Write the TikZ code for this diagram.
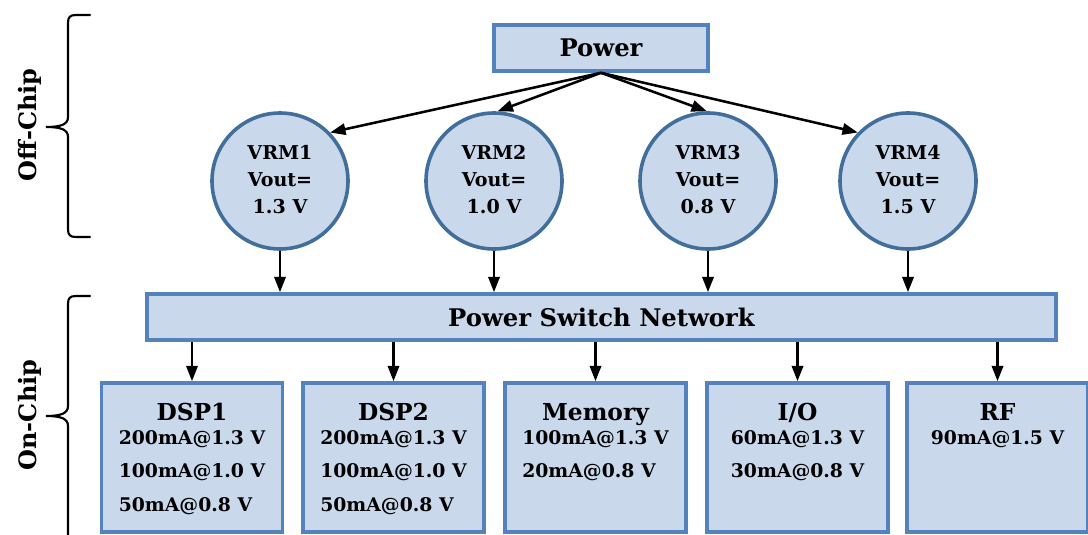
\documentclass[tikz,border=0pt]{standalone}
\usepackage{fontspec}
\setmainfont{DejaVu Serif}
\usetikzlibrary{arrows.meta}
\definecolor{boxfill}{RGB}{201,216,235}
\definecolor{boxline}{RGB}{84,130,189}
\definecolor{ringline}{RGB}{65,110,155}
\tikzset{
  block/.style={draw=boxline, fill=boxfill, line width=2.7pt, inner sep=0pt},
  unit/.style={block, minimum width=135.75pt, minimum height=111.75pt},
  vrm/.style={circle, draw=ringline, fill=boxfill, line width=2.7pt, minimum size=102pt, inner sep=0pt,
    font=\bfseries\fontsize{14.3}{20}\selectfont},
  flow/.style={-{Triangle[length=11.5pt,width=8.5pt]}, line width=1.9pt},
  brace/.style={line width=1.6pt, line cap=round},
  bigtext/.style={font=\bfseries\fontsize{18.2}{18}\selectfont},
  unittitle/.style={anchor=base, inner sep=0pt, font=\bfseries\fontsize{17.5}{17}\selectfont},
  loads/.style={anchor=base, inner sep=0pt, font=\bfseries\fontsize{14.1}{25}\selectfont},
  side/.style={rotate=90, inner sep=0pt, font=\bfseries\fontsize{18}{18}\selectfont},
}
\begin{document}
\begin{tikzpicture}[x=0.75pt, y=-0.75pt]
\useasboundingbox (0,0) rectangle (1088,535);

% supply and regulators
\node[block, bigtext, minimum width=160.5pt, minimum height=34.5pt] (power) at (601,48) {Power};

\node[vrm] (v1) at (280,181) {\begin{tabular}{@{}c@{}}VRM1\\Vout=\\1.3 V\end{tabular}};
\node[vrm] (v2) at (494,181) {\begin{tabular}{@{}c@{}}VRM2\\Vout=\\1.0 V\end{tabular}};
\node[vrm] (v3) at (708,181) {\begin{tabular}{@{}c@{}}VRM3\\Vout=\\0.8 V\end{tabular}};
\node[vrm] (v4) at (908,181) {\begin{tabular}{@{}c@{}}VRM4\\Vout=\\1.5 V\end{tabular}};

\draw[flow] (power.south) -- (v1.44);
\draw[flow] (power.south) -- (v2.87);
\draw[flow] (power.south) -- (v3.91);
\draw[flow] (power.south) -- (v4.136);

% switch network
\node[block, bigtext, minimum width=681.75pt, minimum height=34.5pt] (psn) at (601.5,317) {Power Switch Network};

\foreach \v in {v1,v2,v3,v4}
  \draw[flow] (\v.south) -- (\v.south |- psn.north);

% on-chip loads
\node[unit] (dsp1) at (192,457.5) {};
\node[unit] (dsp2) at (393.5,457.5) {};
\node[unit] (mem)  at (595.5,457.5) {};
\node[unit] (io)   at (797.5,457.5) {};
\node[unit] (rf)   at (997.5,457.5) {};

\foreach \u in {dsp1,dsp2,mem,io,rf}
  \draw[flow] (\u.north |- psn.south) -- (\u.north);

\node[unittitle] (dsp1t) at (192,420) {DSP1};
\node[unittitle] (dsp2t) at (393.5,420) {DSP2};
\node[unittitle] (memt)  at (595.5,420) {Memory};
\node[unittitle] (iot)   at (797.5,420) {I/O};
\node[unittitle] (rft)   at (997.5,420) {RF};

\node[loads] (dsp1l) at (192,444.5) {\begin{tabular}[t]{@{}l@{}}200mA@1.3 V\\100mA@1.0 V\\50mA@0.8 V\end{tabular}};
\node[loads] (dsp2l) at (393.5,444.5) {\begin{tabular}[t]{@{}l@{}}200mA@1.3 V\\100mA@1.0 V\\50mA@0.8 V\end{tabular}};
\node[loads] (meml)  at (595.5,444.5) {\begin{tabular}[t]{@{}l@{}}100mA@1.3 V\\20mA@0.8 V\end{tabular}};
\node[loads] (iol)   at (797.5,444.5) {\begin{tabular}[t]{@{}l@{}}60mA@1.3 V\\30mA@0.8 V\end{tabular}};
\node[loads] (rfl)   at (997.5,444.5) {\begin{tabular}[t]{@{}l@{}}90mA@1.5 V\end{tabular}};

% domain braces
\draw[brace] (90,15) -- (76,15) .. controls (70,15) and (68,17) .. (68,23) -- (68,117)
  .. controls (68,124) and (62,127) .. (46,127) .. controls (62,127) and (68,130) .. (68,137)
  -- (68,229) .. controls (68,235) and (70,237) .. (76,237) -- (90,237);
\draw[brace] (90,296) -- (76,296) .. controls (70,296) and (68,298) .. (68,304) -- (68,406)
  .. controls (68,413) and (62,416) .. (46,416) .. controls (62,416) and (68,419) .. (68,426)
  -- (68,545);

\node[side] (offchip) at (30,125) {Off-Chip};
\node[side] (onchip)  at (30,415) {On-Chip};
\end{tikzpicture}
\end{document}
